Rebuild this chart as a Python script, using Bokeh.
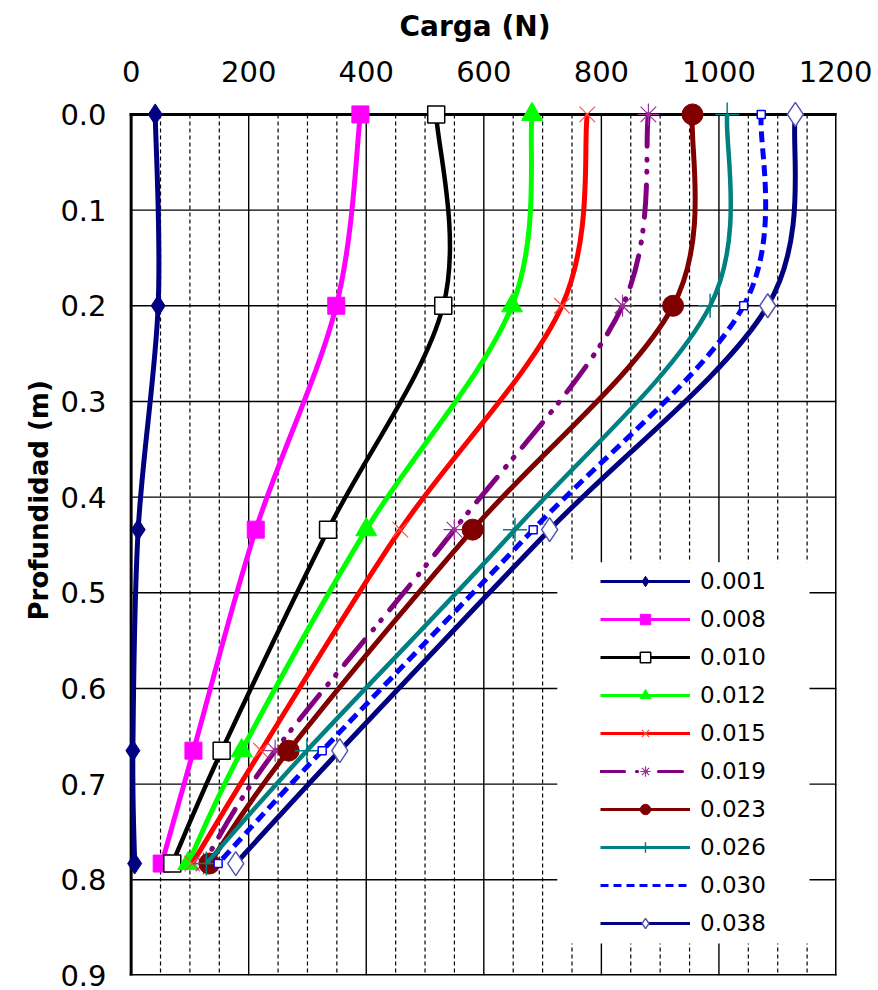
from bokeh.plotting import figure
from bokeh.models import (Range1d, FixedTicker, Legend, LegendItem, BoxAnnotation,
                          ColumnDataSource, CustomJSTickFormatter, Title)
from bokeh.embed import file_html
from bokeh.resources import INLINE

# ---------------- data ----------------
depth = [0.0, 0.2, 0.434, 0.665, 0.783]
labels = ["0.001", "0.008", "0.010", "0.012", "0.015", "0.019", "0.023", "0.026", "0.030", "0.038"]
s001 = [41, 46, 12, 3, 6]
s008 = [390, 349, 212, 106, 52]
s010 = [519, 531, 335, 154, 70]
s012 = [682, 648, 400, 188, 97]
s015 = [776, 733, 458, 221, 104]
s019 = [880, 836, 550, 245, 123]
s023 = [955, 922, 581, 268, 133]
s026 = [1014, 985, 653, 299, 128]
s030 = [1072, 1042, 684, 325, 148]
s038 = [1130, 1083, 712, 355, 178]
series = [s001, s008, s010, s012, s015, s019, s023, s026, s030, s038]

x_ticks = [0, 200, 400, 600, 800, 1000, 1200]
x_minor = [v for v in range(50, 1200, 50) if v % 200 != 0]
y_ticks = [0.0, 0.1, 0.2, 0.3, 0.4, 0.5, 0.6, 0.7, 0.8, 0.9]

# ---------------- styles ----------------
styles = [
    dict(color="#000080", marker="diamond", size=21, lsize=15, fill="#000080", mline="#000080", mlw=1, dash="solid", ldash="solid", lw=5),
    dict(color="#FF00FF", marker="square", size=17, lsize=14, fill="#FF00FF", mline="#FF00FF", mlw=1, dash="solid", ldash="solid", lw=5),
    dict(color="#000000", marker="square", size=17, lsize=14, fill="#FFFFFF", mline="#000000", mlw=1.5, dash="solid", ldash="solid", lw=4.5),
    dict(color="#00FF00", marker="triangle", size=21, lsize=15, fill="#00FF00", mline="#00FF00", mlw=1, dash="solid", ldash="solid", lw=5),
    dict(color="#FF0000", marker="x", size=22, lsize=15, fill=None, mline="#FF5050", mlw=1.2, dash="solid", ldash="solid", lw=5),
    dict(color="#800080", marker="asterisk", size=22, lsize=15, fill=None, mline="#993399", mlw=1.2, dash="32 13 1 11 1 13", ldash="24 12 1 8 1 12", lw=5),
    dict(color="#800000", marker="circle", size=21, lsize=14, fill="#800000", mline="#800000", mlw=1, dash="solid", ldash="solid", lw=5),
    dict(color="#008080", marker="cross", size=24, lsize=15, fill=None, mline="#008080", mlw=1.5, dash="solid", ldash="solid", lw=4.5),
    dict(color="#0000FF", marker="square", size=8, lsize=0, fill="#FFFFFF", mline="#0000FF", mlw=1.5, dash="11 6", ldash="8 5", lw=5),
    dict(color="#000080", marker="diamond", size=24, lsize=16, fill="#FFFFFF", mline="#5555B0", mlw=1.5, dash="solid", ldash="solid", lw=5),
]

FONT = "DejaVu Sans"
NAN = float("nan")

p = figure(width=872, height=988, output_backend="svg", toolbar_location=None,
           x_range=Range1d(-30, 1200), y_range=Range1d(0.9, -0.025),
           x_axis_location="above",
           min_border_left=113, min_border_top=90, min_border_right=36, min_border_bottom=13)

p.background_fill_color = "white"
p.border_fill_color = "white"
p.outline_line_color = None
p.xgrid.visible = False
p.ygrid.visible = False

# axes
xa = p.xaxis[0]
xa.ticker = FixedTicker(ticks=x_ticks)
xa.axis_label = "Carga (N)"
ya = p.yaxis[0]
ya.ticker = FixedTicker(ticks=y_ticks)
ya.formatter = CustomJSTickFormatter(code="return tick.toFixed(1);")
for ax in (xa, ya):
    ax.axis_line_color = None
    ax.major_tick_out = 0
    ax.major_tick_in = 0
    ax.minor_tick_out = 0
    ax.minor_tick_in = 0
    ax.major_label_text_font = FONT
    ax.major_label_text_font_size = "29px"
    ax.major_label_text_color = "black"
xa.axis_label_text_font = FONT
xa.axis_label_text_font_style = "bold"
xa.axis_label_text_color = "black"
xa.axis_label_text_font_size = "28px"
xa.major_label_standoff = 9
xa.axis_label_standoff = 15
ya.major_label_standoff = 7

ytitle = Title(text="Profundidad (m)", align="left", offset=355,
               text_font=FONT, text_font_style="bold", text_font_size="26px",
               text_color="black", standoff=8)
p.add_layout(ytitle, "left")

# grid (solid every 200 N and 0.1 m, dashed every 50 N)
inner_x = x_ticks[1:-1]
inner_y = y_ticks[1:-1]
p.segment(x0=x_minor, y0=[y_ticks[0]] * len(x_minor), x1=x_minor, y1=[y_ticks[-1]] * len(x_minor),
          line_color="black", line_width=1.2, line_dash="4 3", level="underlay")
p.segment(x0=inner_x, y0=[y_ticks[0]] * len(inner_x), x1=inner_x, y1=[y_ticks[-1]] * len(inner_x),
          line_color="black", line_width=1.4, level="underlay")
p.segment(x0=[x_ticks[0]] * len(inner_y), y0=inner_y, x1=[x_ticks[-1]] * len(inner_y), y1=inner_y,
          line_color="black", line_width=1.4, level="underlay")

# white area behind legend (hides grid)
p.add_layout(BoxAnnotation(left=725, right=1154, top=0.468, bottom=0.8665,
                           fill_color="white", fill_alpha=1.0, line_alpha=0, level="underlay"))

# plot border
bx0, bx1, by0, by1 = x_ticks[0], x_ticks[-1], y_ticks[0], y_ticks[-1]
p.segment(x0=[bx0, bx0, bx0, bx1], y0=[by0, by1, by0, by0], x1=[bx1, bx1, bx0, bx1], y1=[by0, by1, by1, by1],
          line_color="black", line_width=3, line_cap="square", level="underlay")


def bez(xs, ys):
    n = len(xs)
    d = dict(x0=[], y0=[], x1=[], y1=[], cx0=[], cy0=[], cx1=[], cy1=[])
    for i in range(n - 1):
        a = i - 1 if i > 0 else i
        b = i + 2 if i + 2 < n else i + 1
        d["x0"].append(xs[i]); d["y0"].append(ys[i])
        d["x1"].append(xs[i + 1]); d["y1"].append(ys[i + 1])
        d["cx0"].append(xs[i] + (xs[i + 1] - xs[a]) / 6.0)
        d["cy0"].append(ys[i] + (ys[i + 1] - ys[a]) / 6.0)
        d["cx1"].append(xs[i + 1] - (xs[b] - xs[i]) / 6.0)
        d["cy1"].append(ys[i + 1] - (ys[b] - ys[i]) / 6.0)
    return ColumnDataSource(d)


items = []
for lab, xs, st in zip(labels, series, styles):
    cap = "round" if lab == "0.019" else "butt"
    p.bezier(x0="x0", y0="y0", x1="x1", y1="y1", cx0="cx0", cy0="cy0", cx1="cx1", cy1="cy1",
             source=bez(xs, depth), line_color=st["color"], line_width=st["lw"],
             line_dash=st["dash"], line_cap=cap)
    p.scatter(x=xs, y=depth, marker=st["marker"], size=st["size"],
              fill_color=st["fill"], line_color=st["mline"], line_width=st["mlw"])
    leg_line = p.line(x=[NAN], y=[NAN], line_color=st["color"], line_width=3.2,
                      line_dash=st["ldash"], line_cap=cap)
    rends = [leg_line]
    if st["lsize"] > 0:
        leg_mk = p.scatter(x=[NAN], y=[NAN], marker=st["marker"], size=st["lsize"],
                           fill_color=st["fill"], line_color=st["mline"], line_width=st["mlw"])
        rends.append(leg_mk)
    items.append(LegendItem(label=lab, renderers=rends))

legend = Legend(items=items, location=(482, 34), margin=0, padding=5,
                glyph_width=90, glyph_height=26, label_height=26, spacing=12,
                label_standoff=10, label_text_font=FONT, label_text_font_size="23px",
                label_text_color="black", background_fill_color="white",
                background_fill_alpha=1.0, border_line_alpha=0)
p.add_layout(legend, "center")

open("out.html", "w").write(file_html(p, INLINE))
